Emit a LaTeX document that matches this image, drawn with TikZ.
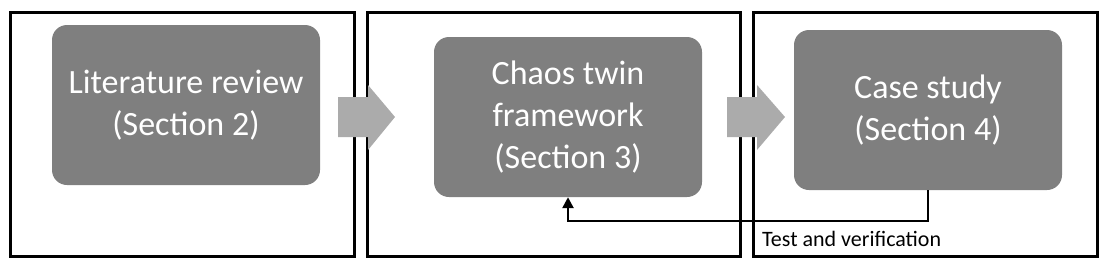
\documentclass[tikz,border=0pt]{standalone}
\usepackage{fontspec}
\setmainfont{Carlito}
\usetikzlibrary{arrows.meta}
\definecolor{boxgray}{HTML}{7F7F7F}
\definecolor{arrgray}{HTML}{ABABAB}
\begin{document}
\begin{tikzpicture}[x=1pt,y=-1pt,
  frame/.style={draw=black,line width=3pt,fill=none},
  stage/.style={draw=none,fill=boxgray,rounded corners=15pt,text=white,
    font=\fontsize{34}{42}\selectfont,align=center,inner sep=0pt},
  blockarrow/.style={fill=arrgray,draw=none},
  conn/.style={draw=black,line width=2.5pt,-{Triangle[length=11pt,width=11pt]}},
  lbl/.style={font=\fontsize{22}{26}\selectfont,anchor=west,inner sep=0pt}]
\useasboundingbox (0,0) rectangle (1108,268);
% frames
\draw[frame] (10,12) rectangle (354,256);
\draw[frame] (367,12) rectangle (740,256);
\draw[frame] (753,12) rectangle (1097,256);
% stage boxes
\node[stage,minimum width=268pt,minimum height=160pt] (A) at (186,105) {Literature review\\(Section 2)};
\node[stage,minimum width=268pt,minimum height=160pt] (B) at (568,117) {Chaos twin\\framework\\(Section 3)};
\node[stage,minimum width=268pt,minimum height=160pt] (C) at (928,110) {Case study\\(Section 4)};
% block arrows
\fill[blockarrow] (338,97) -- (368,97) -- (368,85) -- (395,117) -- (368,150) -- (368,137) -- (338,137) -- cycle;
\fill[blockarrow] (727,97) -- (757,97) -- (757,85) -- (785,117) -- (757,150) -- (757,137) -- (727,137) -- cycle;
% feedback connector
\coordinate (c1) at (928,221);
\coordinate (b1) at (568,221);
\draw[conn] (C.south -| c1) -- (c1) -- (b1) -- (B.south -| b1);
\node[lbl] (L) at (762,239) {Test and verification};
\end{tikzpicture}
\end{document}
